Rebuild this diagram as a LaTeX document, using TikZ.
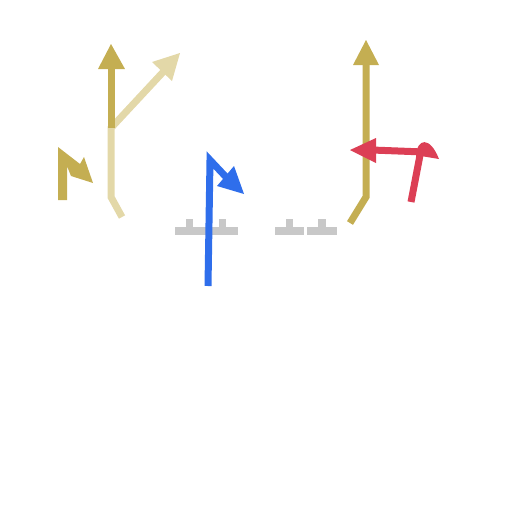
\documentclass[tikz,border=0pt]{standalone}
\definecolor{gold}{HTML}{C4AE52}
\definecolor{lightgold}{HTML}{E3D8A8}
\definecolor{blueA}{HTML}{2F6EEB}
\definecolor{redA}{HTML}{DC3F55}
\definecolor{tile}{HTML}{C8C8C8}
\begin{document}
\begin{tikzpicture}[x=1pt,y=-1pt, stroke/.style={line width=7pt}, tilebar/.style={fill=tile}]
\useasboundingbox (0,0) rectangle (512,512);
% light gold arrow
\draw[lightgold,stroke] (122,217) -- (111,197) -- (111,128) -- (165,70);
\fill[lightgold] (180,53) -- (152,62) -- (172,81) -- cycle;
% dark gold vertical arrow
\draw[gold,stroke] (111,128) -- (111,66);
\fill[gold] (111,44) -- (98,69) -- (125,69) -- cycle;
% small flag
\fill[gold] (58,200) -- (58,147) -- (80,164) -- (84,157) -- (93,183) -- (71,176) -- (67,166) -- (67,200) -- cycle;
% tiles
\fill[tile] (175,227) rectangle (206,235);
\fill[tile] (186,219) rectangle (193,227);
\fill[tile] (208,227) rectangle (238,235);
\fill[tile] (219,219) rectangle (226,227);
\fill[tile] (275,227) rectangle (304,235);
\fill[tile] (286,219) rectangle (293,227);
\fill[tile] (307,227) rectangle (337,235);
\fill[tile] (318,219) rectangle (326,227);
% blue
\draw[blueA,line width=7pt] (208,286) -- (210,160) -- (226,177);
\fill[blueA] (244,194) -- (234,166) -- (217,186) -- cycle;
% right gold
\draw[gold,stroke] (350,223) -- (366,197) -- (366,62);
\fill[gold] (366,40) -- (353,65) -- (379,65) -- cycle;
% red
\draw[redA,stroke] (411,202) -- (421,150);
\draw[redA,stroke] (424,152) -- (372,150);
\fill[redA] (350,150) -- (376,138) -- (376,163) -- cycle;
\fill[redA] (416,156) .. controls (417,138) and (430,136) .. (439,159) -- (421,156) -- cycle;
\end{tikzpicture}
\end{document}
